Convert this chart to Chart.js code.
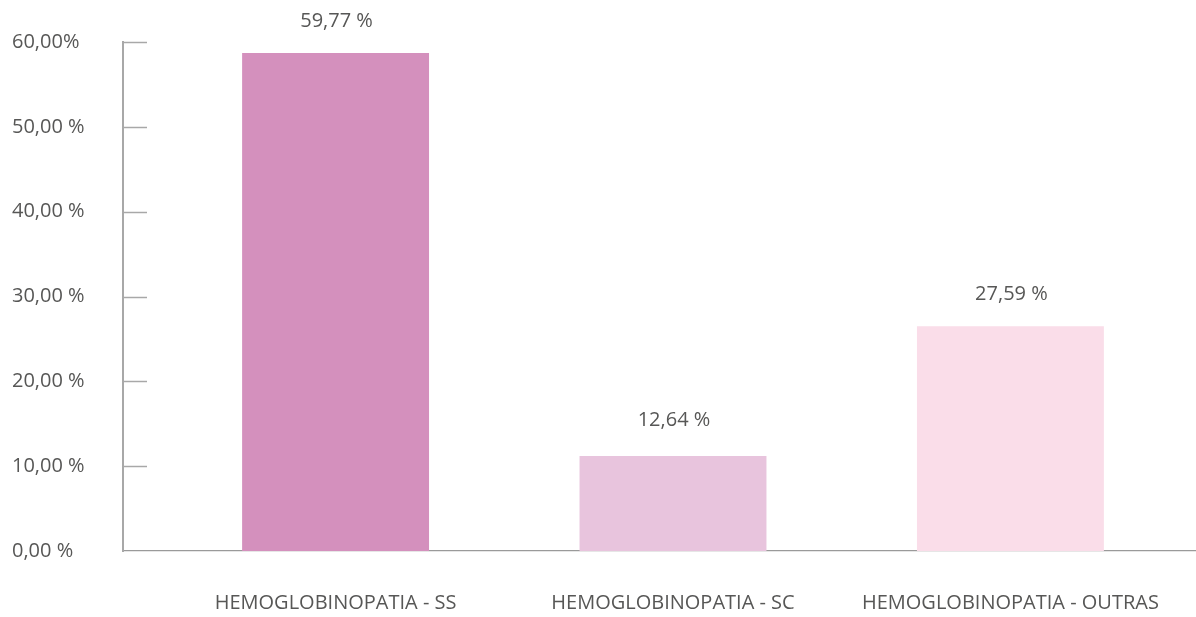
<!DOCTYPE html>
<html>
<head>
<meta charset="utf-8">
<script src="https://cdn.jsdelivr.net/npm/chart.js@4.4.1/dist/chart.umd.min.js"></script>
<style>
  html, body { margin: 0; padding: 0; background: #ffffff; }
  #wrap { width: 1196px; height: 617px; position: relative; }
</style>
</head>
<body>
<div id="wrap"><canvas id="c" width="1196" height="617"></canvas></div>
<script>
const categories = ['HEMOGLOBINOPATIA - SS', 'HEMOGLOBINOPATIA - SC', 'HEMOGLOBINOPATIA - OUTRAS'];
const barValues = [58.7, 11.2, 26.5];
const labelValues = [59.77, 12.64, 27.59];
const barColors = ['#D490BD', '#E8C4DD', '#FADDE9'];
const yTickLabels = ['0,00 %', '10,00 %', '20,00 %', '30,00 %', '40,00 %', '50,00 %', '60,00%'];

const TEXT = '#575756';
const FONT = '"Open Sans", sans-serif';

const innerTicks = {
  id: 'innerTicks',
  afterDatasetsDraw(chart) {
    const { ctx, chartArea } = chart;
    const y = chart.scales.y;
    ctx.save();
    ctx.strokeStyle = '#a8a8a8';
    ctx.lineWidth = 1.5;
    y.ticks.forEach(t => {
      if (t.value === 0) return;
      const py = Math.round(y.getPixelForValue(t.value)) + 0.5;
      ctx.beginPath();
      ctx.moveTo(chartArea.left, py);
      ctx.lineTo(chartArea.left + 24, py);
      ctx.stroke();
    });
    ctx.restore();
  }
};

const valueLabels = {
  id: 'valueLabels',
  afterDatasetsDraw(chart) {
    const { ctx } = chart;
    const x = chart.scales.x, y = chart.scales.y;
    ctx.save();
    ctx.fillStyle = TEXT;
    ctx.font = '20px ' + FONT;
    ctx.textAlign = 'center';
    ctx.textBaseline = 'middle';
    labelValues.forEach((v, i) => {
      const txt = v.toFixed(2).replace('.', ',') + ' %';
      ctx.fillText(txt, x.getPixelForValue(i) + 1, y.getPixelForValue(v) - 23);
    });
    ctx.restore();
  }
};

new Chart(document.getElementById('c'), {
  type: 'bar',
  data: {
    datasets: [{
      data: barValues.map((v, i) => ({ x: i, y: v })),
      backgroundColor: barColors,
      borderWidth: 0,
      barPercentage: 0.554,
      categoryPercentage: 1
    }]
  },
  options: {
    responsive: false,
    animation: false,
    layout: { padding: { top: 42, left: 12, right: 0, bottom: 0 } },
    plugins: { legend: { display: false }, tooltip: { enabled: false } },
    scales: {
      x: {
        type: 'linear',
        offset: false,
        min: -0.63,
        max: 2.55,
        afterBuildTicks(scale) { scale.ticks = categories.map((c, i) => ({ value: i })); },
        afterFit(scale) { scale.height = 66; scale.paddingRight = 0; scale.paddingLeft = 0; },
        grid: { display: false, drawTicks: false, offset: false },
        border: { display: true, color: '#9a9a9a', width: 1.3 },
        ticks: {
          callback: (v) => categories[v],
          color: TEXT,
          font: { family: FONT, size: 20 },
          padding: 40,
          maxRotation: 0,
          autoSkip: false
        }
      },
      y: {
        min: 0,
        max: 60,
        afterFit(scale) { scale.width = 111; },
        grid: { display: false, drawTicks: false },
        border: { display: true, color: '#a8a8a8', width: 2 },
        ticks: {
          stepSize: 10,
          callback: (v) => yTickLabels[Math.round(v / 10)],
          color: TEXT,
          font: { family: FONT, size: 20 },
          crossAlign: 'far',
          padding: 8
        }
      }
    }
  },
  plugins: [innerTicks, valueLabels]
});
</script>
</body>
</html>
